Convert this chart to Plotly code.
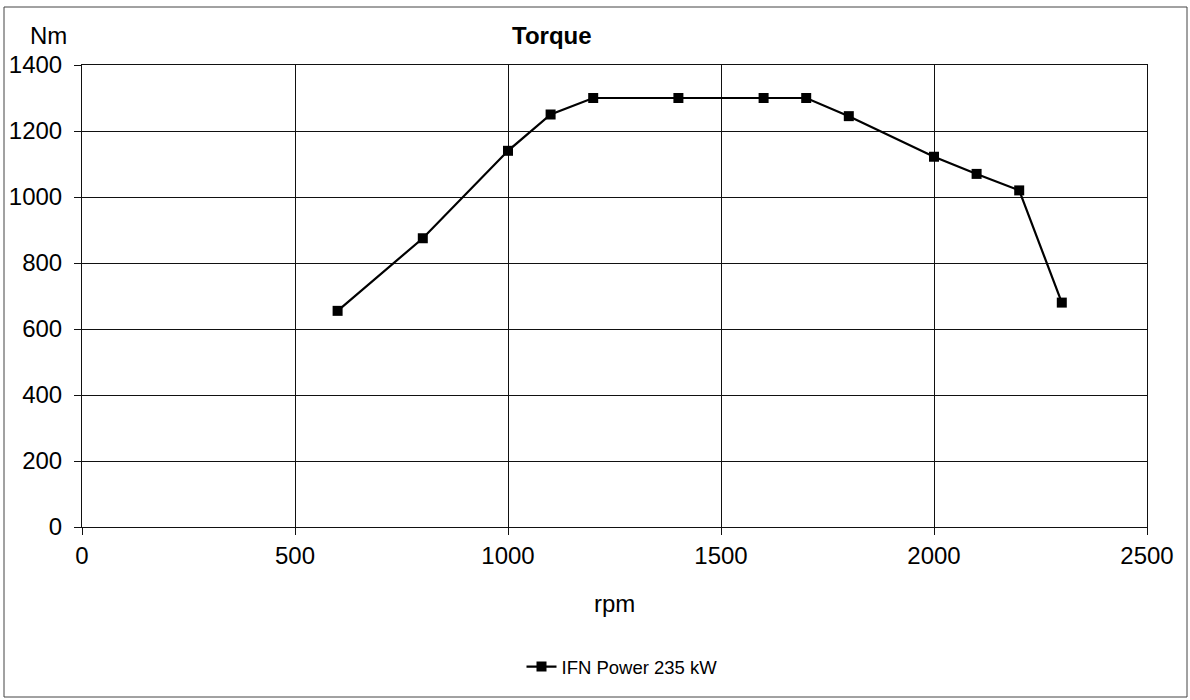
import plotly.graph_objects as go

rpm = [600, 800, 1000, 1100, 1200, 1400, 1600, 1700, 1800, 2000, 2100, 2200, 2300]
torque = [655, 875, 1140, 1250, 1300, 1300, 1300, 1300, 1245, 1122, 1070, 1020, 680]
series_name = "IFN Power 235 kW"
x_ticks = [0, 500, 1000, 1500, 2000, 2500]
y_ticks = [0, 200, 400, 600, 800, 1000, 1200, 1400]

W, H = 1190, 700
L, R, T, B = 82, 43, 65, 173
pw, ph = W - L - R, H - T - B

def px(x):
    return (x - L) / pw

def py(y):
    return (H - B - y) / ph

FONT = "Liberation Sans, Arial, sans-serif"

fig = go.Figure()
fig.add_trace(go.Scatter(
    x=rpm, y=torque, mode="lines+markers", name=series_name,
    line=dict(color="black", width=2.2),
    marker=dict(symbol="square", size=10, color="black"),
))

axis_common = dict(
    showgrid=True, gridcolor="#111", gridwidth=1,
    showline=True, linecolor="#111", linewidth=1, mirror=True,
    zeroline=False, ticks="outside", ticklen=7, tickcolor="#111",
    tickfont=dict(family=FONT, size=24, color="black"),
)

def label(text, x, y):
    return dict(text=text, x=px(x), y=py(y), xref="paper", yref="paper",
                xanchor="center", yanchor="middle", showarrow=False,
                font=dict(family=FONT, size=24, color="black"))

fig.update_layout(
    width=W, height=H,
    margin=dict(l=L, r=R, t=T, b=B, autoexpand=False),
    paper_bgcolor="white", plot_bgcolor="white",
    xaxis=dict(range=[0, 2500], tickvals=x_ticks, **axis_common),
    yaxis=dict(range=[0, 1400], tickvals=y_ticks, ticklabelstandoff=7, **axis_common),
    showlegend=True,
    legend=dict(x=px(622), y=py(667), xanchor="center", yanchor="middle",
                orientation="h", font=dict(family=FONT, size=18.5, color="black"),
                bgcolor="rgba(0,0,0,0)"),
    annotations=[
        label("<b>Torque</b>", 552, 36),
        label("Nm", 48, 36),
        label("rpm", 614, 603),
    ],
    shapes=[
        dict(type="rect", xref="paper", yref="paper",
             x0=px(4), x1=px(1187), y0=py(697), y1=py(7),
             line=dict(color="#444", width=1), fillcolor="rgba(0,0,0,0)", layer="below"),
    ],
)

fig.write_html("out.html", config={"displayModeBar": False},
               post_script="document.body.style.margin='0px';")
